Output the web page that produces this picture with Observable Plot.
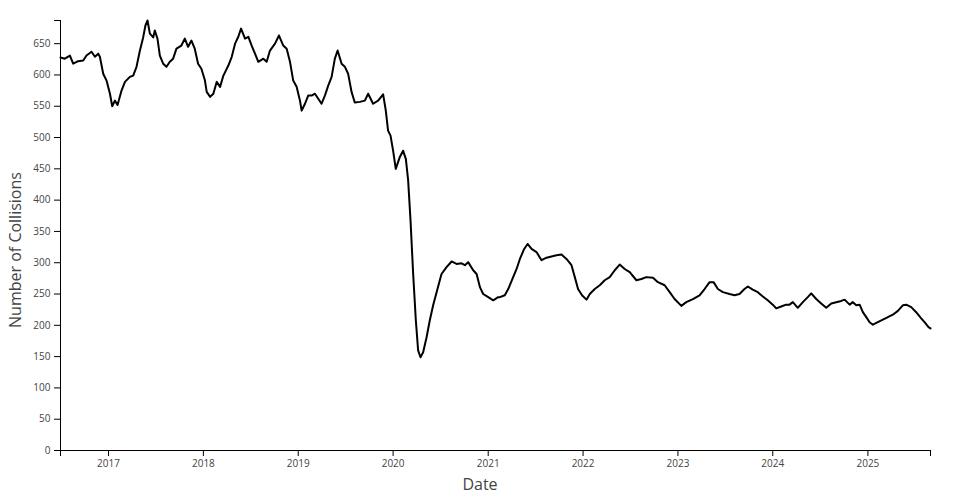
<!DOCTYPE html>
<html>
<head>
<meta charset="utf-8">
<script src="https://cdn.jsdelivr.net/npm/d3@7"></script>
<script src="https://cdn.jsdelivr.net/npm/@observablehq/plot@0.6"></script>
<style>
  body { margin: 0; background: #fff; }
  #chart svg { display: block; }
</style>
</head>
<body>
<div id="chart"></div>
<script>
// Decimal years and rolling number of collisions
const years = [
  2016.495, 2016.541, 2016.594, 2016.628, 2016.681, 2016.734, 2016.768, 2016.821, 2016.857, 2016.892,
  2016.909, 2016.944, 2016.979, 2017.015, 2017.039, 2017.067, 2017.095, 2017.137, 2017.173, 2017.225,
  2017.260, 2017.295, 2017.331, 2017.365, 2017.389, 2017.411, 2017.436, 2017.471, 2017.488, 2017.516,
  2017.541, 2017.576, 2017.611, 2017.646, 2017.681, 2017.716, 2017.768, 2017.804, 2017.839, 2017.874,
  2017.909, 2017.944, 2017.979, 2018.015, 2018.035, 2018.071, 2018.105, 2018.141, 2018.176, 2018.211,
  2018.263, 2018.299, 2018.334, 2018.368, 2018.397, 2018.439, 2018.474, 2018.509, 2018.544, 2018.579,
  2018.632, 2018.667, 2018.702, 2018.755, 2018.797, 2018.842, 2018.878, 2018.913, 2018.947, 2018.983,
  2019.018, 2019.036, 2019.071, 2019.105, 2019.141, 2019.176, 2019.211, 2019.246, 2019.281, 2019.316,
  2019.352, 2019.386, 2019.415, 2019.457, 2019.492, 2019.526, 2019.562, 2019.596, 2019.649, 2019.702,
  2019.737, 2019.789, 2019.842, 2019.895, 2019.923, 2019.947, 2019.973, 2020.000, 2020.028, 2020.071,
  2020.105, 2020.134, 2020.158, 2020.183, 2020.211, 2020.239, 2020.263, 2020.288, 2020.316, 2020.352,
  2020.386, 2020.421, 2020.463, 2020.509, 2020.562, 2020.615, 2020.667, 2020.720, 2020.755, 2020.789,
  2020.842, 2020.878, 2020.913, 2020.947, 2021.000, 2021.053, 2021.105, 2021.123, 2021.175, 2021.211,
  2021.263, 2021.299, 2021.334, 2021.379, 2021.415, 2021.457, 2021.509, 2021.562, 2021.615, 2021.667,
  2021.720, 2021.773, 2021.825, 2021.878, 2021.913, 2021.947, 2021.989, 2022.036, 2022.071, 2022.123,
  2022.176, 2022.228, 2022.281, 2022.334, 2022.386, 2022.439, 2022.492, 2022.562, 2022.615, 2022.667,
  2022.737, 2022.789, 2022.860, 2022.913, 2022.965, 2023.036, 2023.088, 2023.158, 2023.228, 2023.281,
  2023.334, 2023.376, 2023.421, 2023.474, 2023.544, 2023.597, 2023.649, 2023.702, 2023.737, 2023.789,
  2023.842, 2023.895, 2023.947, 2024.000, 2024.036, 2024.088, 2024.141, 2024.176, 2024.211, 2024.263,
  2024.316, 2024.368, 2024.404, 2024.457, 2024.509, 2024.562, 2024.615, 2024.667, 2024.720, 2024.755,
  2024.808, 2024.842, 2024.878, 2024.913, 2024.947, 2024.983, 2025.018, 2025.053, 2025.105, 2025.158,
  2025.211, 2025.263, 2025.316, 2025.368, 2025.404, 2025.457, 2025.509, 2025.562, 2025.597, 2025.639,
  2025.660
];
const collisions = [
  628, 626, 631, 618, 622, 623, 631, 637, 629, 634,
  629, 602, 591, 570, 550, 559, 552, 575, 589, 597,
  599, 613, 639, 660, 679, 687, 666, 660, 671, 658,
  631, 618, 613, 621, 626, 642, 647, 658, 645, 655,
  642, 618, 610, 592, 573, 565, 570, 589, 581, 599,
  615, 629, 650, 661, 674, 658, 661, 647, 634, 621,
  626, 621, 639, 650, 663, 647, 642, 621, 591, 581,
  559, 543, 554, 567, 567, 570, 562, 554, 567, 583,
  597, 626, 639, 618, 613, 602, 573, 556, 557, 559,
  570, 554, 559, 569, 543, 511, 503, 479, 450, 469,
  479, 466, 432, 368, 282, 208, 160, 149, 157, 181,
  208, 232, 256, 282, 293, 302, 298, 299, 296, 301,
  288, 282, 261, 250, 245, 240, 245, 245, 248, 258,
  277, 290, 306, 322, 330, 322, 317, 304, 308, 310,
  312, 313, 306, 296, 277, 258, 248, 241, 250, 258,
  264, 272, 277, 288, 297, 290, 285, 272, 274, 277,
  276, 269, 264, 253, 242, 231, 237, 242, 248, 258,
  269, 269, 258, 253, 250, 248, 250, 258, 262, 257,
  253, 246, 240, 233, 227, 230, 233, 233, 237, 228,
  237, 245, 251, 242, 235, 228, 235, 237, 239, 241,
  233, 237, 232, 233, 221, 213, 205, 201, 205, 209,
  213, 217, 223, 232, 233, 229, 221, 211, 205, 197,
  195
];
const tickYears = [2017, 2018, 2019, 2020, 2021, 2022, 2023, 2024, 2025];
const yTicks = [0, 50, 100, 150, 200, 250, 300, 350, 400, 450, 500, 550, 600, 650];

function toDate(y) {
  const yr = Math.floor(y);
  const a = Date.UTC(yr, 0, 1), b = Date.UTC(yr + 1, 0, 1);
  return new Date(a + (y - yr) * (b - a));
}

const data = years.map((y, i) => ({date: toDate(y), value: collisions[i]}));
const xDomain = d3.extent(data, d => d.date);
const yMax = d3.max(collisions);
const tickDates = tickYears.map(y => new Date(Date.UTC(y, 0, 1)));

const W = 960, H = 500;
const chart = Plot.plot({
  width: W,
  height: H,
  marginLeft: 60,
  marginRight: 30,
  marginTop: 20,
  marginBottom: 50,
  style: {fontFamily: "'Open Sans', sans-serif", fontSize: "10px", background: "#fff"},
  x: {type: "utc", domain: xDomain},
  y: {domain: [0, yMax]},
  marks: [
    Plot.axisX({ticks: tickDates, tickFormat: d3.utcFormat("%Y"), tickSize: 6, tickPadding: 3,
      stroke: "#000", fill: "#444", label: null, fontSize: 10}),
    Plot.axisX({ticks: xDomain, tickFormat: () => "", tickSize: 6, stroke: "#000", label: null}),
    Plot.axisY({ticks: yTicks, tickSize: 6, tickPadding: 4, stroke: "#000", fill: "#444", label: null, fontSize: 10}),
    Plot.axisY({ticks: [yMax], tickFormat: () => "", tickSize: 6, stroke: "#000", label: null}),
    Plot.ruleY([0], {stroke: "#000", strokeWidth: 1}),
    Plot.ruleX([xDomain[0]], {stroke: "#000", strokeWidth: 1}),
    Plot.line(data, {x: "date", y: "value", stroke: "#000", strokeWidth: 2, strokeLinejoin: "round"})
  ]
});

const svg = d3.select(chart);
svg.append("text")
  .attr("x", W / 2).attr("y", 490)
  .attr("text-anchor", "middle")
  .attr("fill", "#444")
  .style("font-family", "'Open Sans', sans-serif")
  .style("font-size", "16px")
  .text("Date");
svg.append("text")
  .attr("transform", `translate(21,${H / 2}) rotate(-90)`)
  .attr("text-anchor", "middle")
  .attr("fill", "#444")
  .style("font-family", "'Open Sans', sans-serif")
  .style("font-size", "16px")
  .text("Number of Collisions");

document.getElementById("chart").appendChild(chart);
</script>
</body>
</html>
